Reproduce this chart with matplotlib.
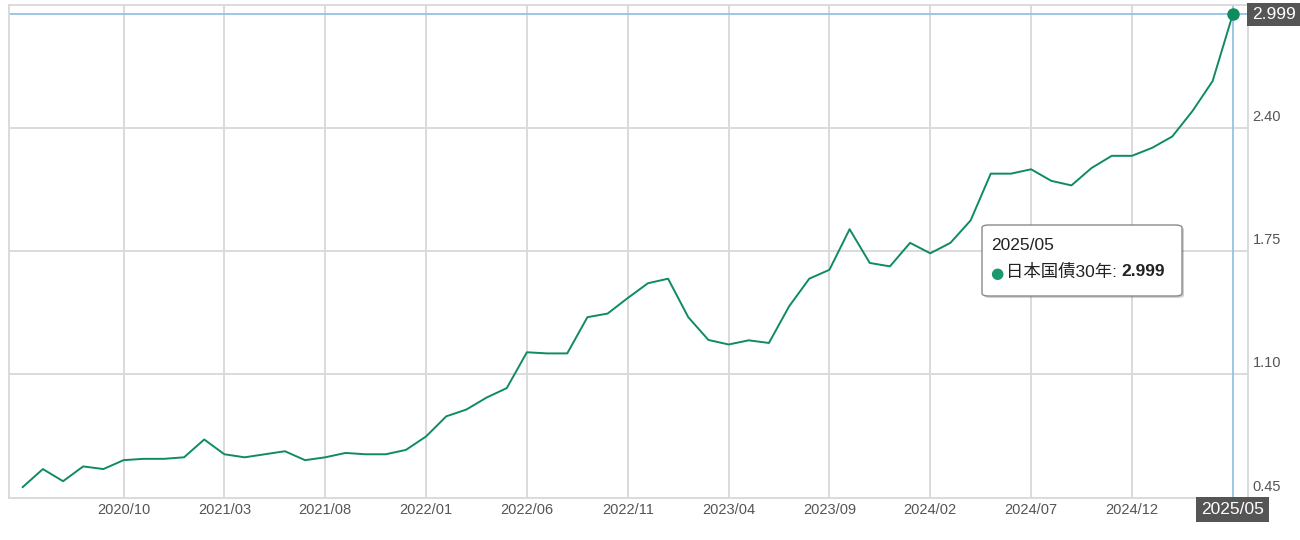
import matplotlib.pyplot as plt
import numpy as np
import pandas as pd
from matplotlib.patches import FancyBboxPatch

plt.rcParams['font.family'] = ['Liberation Sans', 'Noto Sans CJK JP', 'DejaVu Sans']

# monthly yields, 2020/05 .. 2025/05
months = pd.date_range('2020-05-01', '2025-05-01', freq='MS').strftime('%Y/%m').tolist()
yields = [0.506, 0.601, 0.537, 0.615, 0.601, 0.648, 0.655, 0.655, 0.663, 0.757,
          0.679, 0.663, 0.679, 0.695, 0.648, 0.663, 0.686, 0.679, 0.679, 0.702,
          0.773, 0.879, 0.915, 0.978, 1.028, 1.217, 1.211, 1.211, 1.402, 1.421,
          1.503, 1.581, 1.605, 1.402, 1.282, 1.258, 1.280, 1.266, 1.459, 1.605,
          1.652, 1.866, 1.688, 1.670, 1.794, 1.739, 1.794, 1.912, 2.159, 2.159,
          2.182, 2.121, 2.097, 2.189, 2.253, 2.253, 2.295, 2.355, 2.489, 2.647,
          2.999]
series_name = '日本国債30年'
y_ticks = [0.45, 1.10, 1.75, 2.40]
x_tick_labels = ['2020/10', '2021/03', '2021/08', '2022/01', '2022/06', '2022/11',
                 '2023/04', '2023/09', '2024/02', '2024/07', '2024/12']

green = '#0f8c5e'
cross = '#93c3e3'
grid = '#dadada'

W, H = 1300, 540
fig = plt.figure(figsize=(W / 100, H / 100), dpi=100)
ax = fig.add_axes([9 / W, 1 - 497.7 / H, (1247.7 - 9) / W, (497.7 - 4.7) / H])

x = np.arange(len(months))
last = len(months) - 1
ax.set_xlim(-0.68, last + 0.74)
ax.set_ylim(0.45, 3.05)

for v in y_ticks[1:]:
    ax.axhline(v, color=grid, lw=1.4, zorder=0)
xt = [months.index(m) for m in x_tick_labels]
for p in xt:
    ax.axvline(p, color=grid, lw=1.4, zorder=0)
for s in ax.spines.values():
    s.set_color(grid)
    s.set_linewidth(1.4)
ax.set_xticks([])
ax.set_yticks([])

# tick labels
for p, lab in zip(xt, x_tick_labels):
    ax.annotate(lab, xy=(p, 0), xycoords=('data', 'axes fraction'), xytext=(0, -12),
                textcoords='offset pixels', ha='center', va='center', fontsize=10.5, color='#555555')
for v in y_ticks:
    ax.annotate(f'{v:.2f}', xy=(1, v), xycoords=('axes fraction', 'data'), xytext=(5, 4),
                textcoords='offset pixels', ha='left', va='bottom', fontsize=10.5, color='#555555')

# crosshair
ax.axhline(yields[-1], color=cross, lw=1.3, zorder=1)
ax.axvline(last, color=cross, lw=1.3, zorder=1)

ax.plot(x, yields, color=green, lw=1.4, zorder=3)
ax.plot(x[-1], yields[-1], 'o', color=green, ms=8, zorder=4)

ax.annotate(f'{yields[-1]:.3f}', xy=(1, yields[-1]), xycoords=('axes fraction', 'data'),
            xytext=(4, 0), textcoords='offset pixels', ha='left', va='center',
            fontsize=12.5, color='white', annotation_clip=False,
            bbox=dict(boxstyle='square,pad=0.25', fc='#555555', ec='none'))
ax.annotate(months[-1], xy=(last, 0), xycoords=('data', 'axes fraction'),
            xytext=(0, -12), textcoords='offset pixels', ha='center', va='center',
            fontsize=12.5, color='white', annotation_clip=False,
            bbox=dict(boxstyle='square,pad=0.3', fc='#555555', ec='none'))

# tooltip
bx0, by0, bw, bh = 982, 225, 200, 71
shadow = FancyBboxPatch(((bx0 + 2) / W, 1 - (by0 + bh + 2) / H), bw / W, bh / H,
                        boxstyle='round,pad=0,rounding_size=0.005', transform=fig.transFigure,
                        fc='#000000', ec='none', alpha=0.18, zorder=5)
box = FancyBboxPatch((bx0 / W, 1 - (by0 + bh) / H), bw / W, bh / H,
                     boxstyle='round,pad=0,rounding_size=0.005', transform=fig.transFigure,
                     fc='white', ec='#8a8a8a', lw=1.0, zorder=6)
fig.add_artist(shadow)
fig.add_artist(box)
fig.text(991 / W, 1 - 245 / H, months[-1], fontsize=12.5, color='#222222', va='center', zorder=7)
fig.text(990 / W, 1 - 273 / H, '●', fontsize=11, color='#1a9a6c', va='center', zorder=7,
         family=['DejaVu Sans'])
t1 = fig.text(1006 / W, 1 - 272 / H, series_name + ': ', fontsize=12.5, color='#222222',
              va='center', zorder=7)
fig.canvas.draw()
bb = t1.get_window_extent()
fig.text(bb.x1 / W, 1 - 272 / H, f'{yields[-1]:.3f}', fontsize=12.5, color='#222222',
         fontweight='bold', va='center', zorder=7)

fig.savefig('out.png', dpi=100)
